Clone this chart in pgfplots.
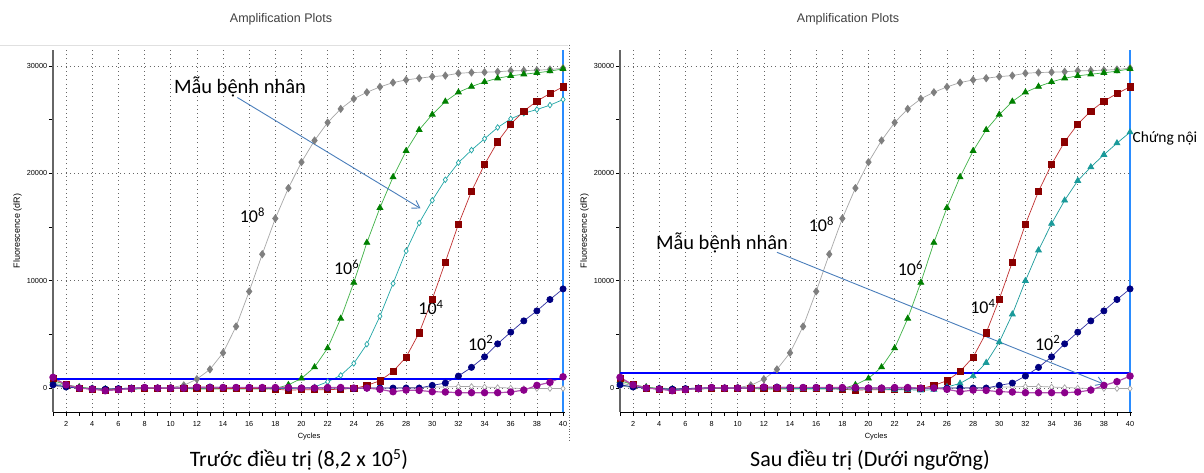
\documentclass[border=0pt]{standalone}
\usepackage{fontspec}
\setmainfont{Liberation Sans}
\newfontfamily\calfont{Carlito}
\usepackage{pgfplots}
\usepackage{pgfplotstable}
\pgfplotsset{compat=1.18}
\usetikzlibrary{arrows.meta}

\definecolor{grayM}{HTML}{7F7F7F}
\definecolor{grayL}{HTML}{A6A6A6}
\definecolor{grnM}{HTML}{008000}
\definecolor{grnL}{HTML}{3CB043}
\definecolor{redM}{HTML}{8B0000}
\definecolor{redL}{HTML}{C03030}
\definecolor{navM}{HTML}{000080}
\definecolor{navL}{HTML}{3030A0}
\definecolor{purM}{HTML}{8B008B}
\definecolor{purL}{HTML}{B050B0}
\definecolor{cyaL}{HTML}{1FA5A5}
\definecolor{tealM}{HTML}{1A9A9A}
\definecolor{thr}{HTML}{0000FF}
\definecolor{vline}{HTML}{2A8CFF}
\definecolor{arr}{HTML}{4A7EBB}

% cycle, standards 10^8 10^6 10^4 10^2, purple sample, NTC, patient (left), internal control (right), purple (right)
\pgfplotstableread{
cyc e8 e6 e4 e2 pur ntc pt ic pur2
1 500 700 900 300 1000 200 400 300 1000
2 200 300 300 100 300 50 100 100 300
3 0 100 0 0 0 0 0 0 0
4 -100 -50 -100 -50 -100 0 -100 -100 -100
5 -150 -100 -200 -100 -250 -50 -150 -150 -250
6 -100 -100 -100 -50 -150 -50 -100 -100 -150
7 -50 -100 -50 0 -50 0 -100 -50 -50
8 0 -50 0 50 50 0 -50 0 50
9 0 -50 -50 0 0 0 -50 0 0
10 50 -50 -50 0 0 0 -50 0 0
11 250 -50 0 0 0 0 -50 0 0
12 830 -100 0 50 100 0 -50 0 100
13 1740 -100 0 100 50 0 -50 0 50
14 3280 -100 -50 50 50 0 -50 -50 50
15 5740 -100 -50 50 50 0 -50 -50 50
16 9000 -100 -50 50 50 0 -50 -50 50
17 12470 -100 -50 0 50 0 -50 -50 50
18 15800 -50 -100 0 50 0 -50 -100 50
19 18630 300 -200 0 50 0 -50 -100 50
20 21050 900 -150 0 0 0 0 -100 0
21 23070 1950 -150 0 0 0 100 -100 0
22 24740 3720 -150 0 50 0 590 -150 50
23 26010 6480 -100 0 50 0 1180 -150 50
24 26950 9830 -50 -50 0 0 2300 -200 0
25 27560 13550 250 0 0 0 4090 -150 0
26 28060 16800 680 0 -120 0 6700 100 -120
27 28465 19660 1550 0 -340 0 9740 430 -340
28 28710 22100 2880 0 -190 50 12770 1120 -190
29 28870 24060 5150 0 -220 50 15380 2360 -220
30 29020 25490 8280 250 -340 100 17490 4280 -340
31 29115 26700 11750 465 -370 100 19410 6880 -370
32 29330 27560 15260 1120 -430 150 21000 9990 -430
33 29400 28090 18330 1930 -430 150 22170 12840 -430
34 29430 28530 20840 2910 -430 100 23230 15320 -430
35 29470 28870 22950 4120 -430 50 24280 17490 -430
36 29560 29090 24590 5210 -370 0 25085 19320 -370
37 29580 29240 25800 6260 -190 -50 25610 20590 -190
38 29620 29370 26740 7190 250 -50 25950 21740 250
39 29680 29530 27440 8250 530 -50 26360 22820 600
40 29810 29740 28060 9240 1050 -50 26880 23840 1120
}\amp

\pgfplotsset{
  ampplot/.style={
    scale only axis, width=512pt, height=362pt,
    xmin=1, xmax=40.15, ymin=-2230, ymax=31500,
    axis x line*=bottom, axis y line*=left,
    x axis line style={black, line width=0.8pt, -},
    y axis line style={black!60, line width=1.6pt, -},
    xtick={2,4,...,40}, minor xtick={1,...,40},
    ytick={0,10000,20000,30000}, minor ytick={5000,15000,25000},
    tick align=outside, major tick length=4pt, minor tick length=4pt,
    every tick/.style={black, line width=0.6pt},
    minor tick style={black, line width=0.6pt},
    xmajorgrids, ymajorgrids,
    major grid style={black!60, dash pattern=on 0.8pt off 3.4pt, line width=0.7pt},
    scaled y ticks=false,
    yticklabel style={/pgf/number format/.cd, fixed, 1000 sep={}},
    /pgf/number format/assume math mode=true,
    ticklabel style={font=\fontsize{7.3}{8}\selectfont, inner sep=1.5pt},
    xticklabel style={yshift=-4pt},
    xlabel={Cycles}, ylabel={Fluorescence (dR)},
    xlabel style={font=\fontsize{7.5}{8}\selectfont, yshift=-1pt},
    ylabel style={font=\fontsize{9}{10}\selectfont, yshift=0pt},
    clip=false,
    line width=0.7pt,
  },
  s8/.style={grayL, mark=diamond*, mark size=3.6pt, mark options={fill=grayM, draw=grayM}},
  s6/.style={grnL, mark=triangle*, mark size=3.4pt, mark options={fill=grnM, draw=grnM}},
  s4/.style={redL, mark=square*, mark size=3.1pt, mark options={fill=redM, draw=redM}},
  s2/.style={navL, mark=*, mark size=3.1pt, mark options={fill=navM, draw=navM}},
  sp/.style={purL, line width=1.2pt, mark=*, mark size=3.1pt, mark options={fill=purM, draw=purM}},
  sn/.style={black!35, mark=diamond*, mark size=2.8pt, mark options={fill=white, draw=black!35}},
  spt/.style={cyaL, mark=diamond*, mark size=2.8pt, mark options={fill=white, draw=cyaL}},
  sic/.style={tealM, mark=triangle*, mark size=3.4pt, mark options={fill=tealM, draw=tealM}},
}

\begin{document}
\begin{tikzpicture}[x=1pt,y=1pt]
\useasboundingbox (0,0) rectangle (1204,473);

% panel frame (left)
\draw[black!12, line width=0.8pt] (0,428) -- (568,428);
\draw[black!60, dash pattern=on 0.8pt off 2pt] (569,428) -- (569,33);

\node[black!75, font=\fontsize{12.5}{14}\selectfont] at (281,454) {Amplification Plots};
\node[black!75, font=\fontsize{12.5}{14}\selectfont] at (848,454) {Amplification Plots};
\node[font=\calfont\fontsize{22}{25}\selectfont] at (299,13) {Trước điều trị (8,2 x 10\textsuperscript{5})};
\node[font=\calfont\fontsize{22}{25}\selectfont] at (870,13) {Sau điều trị (Dưới ngưỡng)};

% ---------------- left: before treatment
\begin{axis}[ampplot, at={(53pt,61pt)}, anchor=south west]
\addplot[sn] table[x=cyc,y=ntc] {\amp};
\addplot[s8] table[x=cyc,y=e8] {\amp};
\addplot[s6] table[x=cyc,y=e6] {\amp};
\addplot[spt] table[x=cyc,y=pt] {\amp};
\addplot[s4] table[x=cyc,y=e4] {\amp};
\addplot[s2] table[x=cyc,y=e2] {\amp};
\addplot[sp] table[x=cyc,y=pur] {\amp};
\addplot[thr, line width=2pt, no marks] coordinates {(1,810) (40,810)};
\addplot[vline, line width=1.8pt, no marks] coordinates {(40,-2230) (40,31500)};
\node[font=\calfont\fontsize{20.5}{24}\selectfont] at (axis cs:15.3,28090) {Mẫu bệnh nhân};
\draw[arr, line width=0.9pt, -{Straight Barb[length=7pt,width=9pt]}] (axis cs:15.1,27070) -- (axis cs:29.1,16740);
\node[font=\calfont\fontsize{18}{20}\selectfont] at (axis cs:16.25,16090) {10\textsuperscript{8}};
\node[font=\calfont\fontsize{18}{20}\selectfont] at (axis cs:23.45,11260) {10\textsuperscript{6}};
\node[font=\calfont\fontsize{18}{20}\selectfont] at (axis cs:29.9,7530) {10\textsuperscript{4}};
\node[font=\calfont\fontsize{18}{20}\selectfont] at (axis cs:33.7,4190) {10\textsuperscript{2}};
\end{axis}

% ---------------- right: after treatment
\begin{axis}[ampplot, at={(620pt,61pt)}, anchor=south west]
\addplot[sn] table[x=cyc,y=ntc] {\amp};
\addplot[s8] table[x=cyc,y=e8] {\amp};
\addplot[s6] table[x=cyc,y=e6] {\amp};
\addplot[s4] table[x=cyc,y=e4] {\amp};
\addplot[sic] table[x=cyc,y=ic] {\amp};
\addplot[s2] table[x=cyc,y=e2] {\amp};
\addplot[sp] table[x=cyc,y=pur2] {\amp};
\addplot[thr, line width=2pt, no marks] coordinates {(1,1420) (40,1420)};
\addplot[vline, line width=1.8pt, no marks] coordinates {(40,-2230) (40,31500)};
\node[font=\calfont\fontsize{20.5}{24}\selectfont] at (axis cs:8.8,13490) {Mẫu bệnh nhân};
\draw[arr, line width=0.9pt, -{Straight Barb[length=7pt,width=9pt]}] (axis cs:13.0,12650) -- (axis cs:38.0,370);
\node[font=\calfont\fontsize{18}{20}\selectfont] at (axis cs:16.4,15260) {10\textsuperscript{8}};
\node[font=\calfont\fontsize{18}{20}\selectfont] at (axis cs:23.2,11160) {10\textsuperscript{6}};
\node[font=\calfont\fontsize{18}{20}\selectfont] at (axis cs:28.75,7630) {10\textsuperscript{4}};
\node[font=\calfont\fontsize{18}{20}\selectfont] at (axis cs:33.7,4190) {10\textsuperscript{2}};
\node[anchor=west, inner sep=1pt, font=\calfont\fontsize{15.5}{18}\selectfont] at (axis cs:40.1,23300) {Chứng nội};
\end{axis}
\end{tikzpicture}
\end{document}
